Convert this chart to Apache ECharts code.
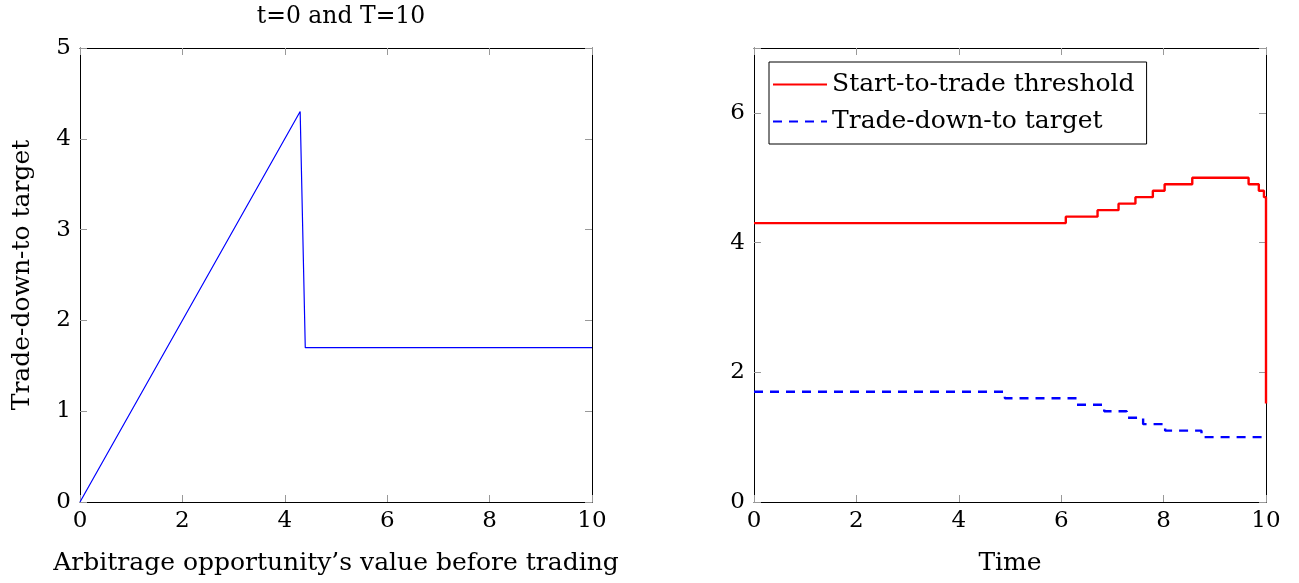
<!DOCTYPE html>
<html><head><meta charset="utf-8">
<script src="https://cdn.jsdelivr.net/npm/echarts@6/dist/echarts.min.js"></script>
<style>html,body{margin:0;padding:0;background:#fff}#c{width:1299px;height:583px}</style>
</head><body><div id="c"></div>
<script>
// Left panel data
const leftX = [0, 4.3, 4.4, 10];
const leftY = [0, 4.3, 1.7, 1.7];
// Right panel data (step changes: time, value)
const startTime = [0, 6.09, 6.71, 7.12, 7.45, 7.79, 8.02, 8.56, 9.66, 9.86, 9.96, 10];
const startValue = [4.3, 4.4, 4.5, 4.6, 4.7, 4.8, 4.9, 5.0, 4.9, 4.8, 4.7, 1.52];
const targetTime = [0, 4.9, 6.3, 6.84, 7.28, 7.6, 8.03, 8.74, 9.98];
const targetValue = [1.7, 1.6, 1.5, 1.4, 1.3, 1.2, 1.1, 1.0, 1.0];

const FONT = 'DejaVu Serif';
const FS = 23;
const FS2 = 25;
const zip = (a, b) => a.map((v, i) => [v, b[i]]);

function xAx(gi, pos, show, name) {
  return {
    type: 'value', gridIndex: gi, position: pos, min: 0, max: 10, interval: 2,
    axisLine: { show: true, onZero: false, lineStyle: { color: '#000', width: 1 } },
    axisTick: { show: true, inside: true, length: 7, lineStyle: { color: '#999' } },
    axisLabel: { show: show, color: '#000', fontFamily: FONT, fontSize: FS, margin: 8 },
    splitLine: { show: false },
    name: name || '', nameLocation: 'middle', nameGap: 49,
    nameTextStyle: { color: '#000', fontFamily: FONT, fontSize: FS2 }
  };
}
function yAx(gi, pos, show, max, name) {
  return {
    type: 'value', gridIndex: gi, position: pos, min: 0, max: max, interval: gi === 0 ? 1 : 2,
    axisLine: { show: true, onZero: false, lineStyle: { color: '#000', width: 1 } },
    axisTick: { show: true, inside: true, length: 7, lineStyle: { color: '#999' } },
    axisLabel: { show: show, color: '#000', fontFamily: FONT, fontSize: FS, margin: 9,
      formatter: v => (v === 7 ? '' : String(v)) },
    splitLine: { show: false },
    name: name || '', nameLocation: 'middle', nameGap: 45,
    nameTextStyle: { color: '#000', fontFamily: FONT, fontSize: FS2 }
  };
}

const chart = echarts.init(document.getElementById('c'));
chart.setOption({
  animation: false,
  backgroundColor: '#fff',
  title: {
    text: 't=0 and T=10', left: 336, top: 0, textAlign: 'center',
    textStyle: { color: '#000', fontFamily: FONT, fontSize: 23.5, fontWeight: 'normal' }
  },
  legend: {
    left: 769, top: 62, orient: 'vertical',
    backgroundColor: '#fff', borderColor: '#000', borderWidth: 1, borderRadius: 0,
    padding: [10, 12, 10, 3], itemGap: 12, itemWidth: 54, itemHeight: 14,
    itemStyle: { opacity: 0 },
    textStyle: { color: '#000', fontFamily: FONT, fontSize: FS2 },
    data: ['Start-to-trade threshold', 'Trade-down-to target']
  },
  grid: [
    { left: 80, right: 707, top: 48, bottom: 81 },
    { left: 754, right: 33, top: 48, bottom: 81 }
  ],
  xAxis: [
    xAx(0, 'bottom', true, "Arbitrage opportunity\u2019s value before trading"),
    xAx(0, 'top', false),
    xAx(1, 'bottom', true, 'Time'),
    xAx(1, 'top', false)
  ],
  yAxis: [
    yAx(0, 'left', true, 5, 'Trade-down-to target'),
    yAx(0, 'right', false, 5),
    yAx(1, 'left', true, 7),
    yAx(1, 'right', false, 7)
  ],
  series: [
    { type: 'line', xAxisIndex: 0, yAxisIndex: 0, data: zip(leftX, leftY), symbol: 'none',
      lineStyle: { color: '#0000ff', width: 1.2 }, silent: true },
    { name: 'Start-to-trade threshold', type: 'line', xAxisIndex: 2, yAxisIndex: 2,
      data: zip(startTime, startValue), step: 'end', symbol: 'none',
      itemStyle: { color: '#ff0000' }, lineStyle: { color: '#ff0000', width: 2.4 } },
    { name: 'Trade-down-to target', type: 'line', xAxisIndex: 2, yAxisIndex: 2,
      data: zip(targetTime, targetValue), step: 'end', symbol: 'none',
      itemStyle: { color: '#0000ff' }, lineStyle: { color: '#0000ff', width: 2.4, type: [9, 7] } }
  ]
});
</script></body></html>
